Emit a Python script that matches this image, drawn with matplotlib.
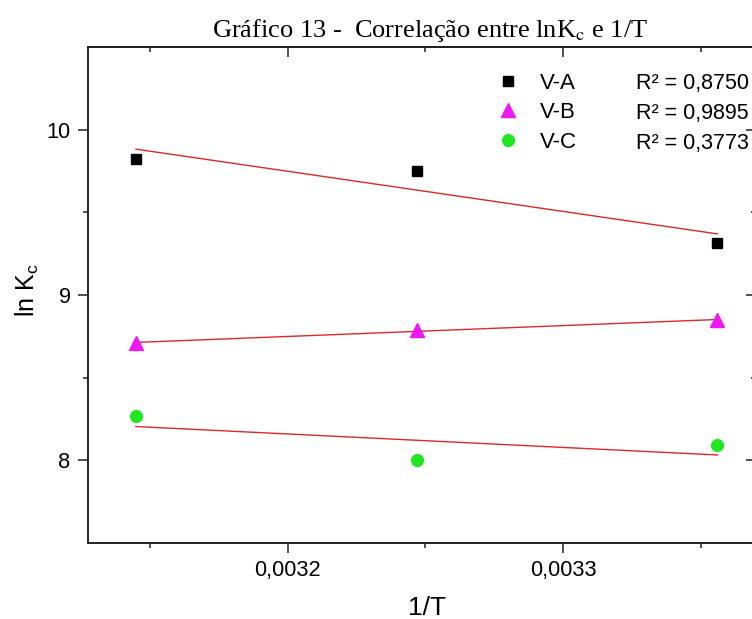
import numpy as np
import matplotlib.pyplot as plt
from matplotlib.lines import Line2D
from matplotlib.ticker import FuncFormatter

plt.rcParams['font.family'] = 'Liberation Sans'
plt.rcParams['mathtext.fontset'] = 'custom'
plt.rcParams['mathtext.rm'] = 'Liberation Sans'
plt.rcParams['mathtext.it'] = 'Liberation Sans:italic'

# dados
inv_T = [0.003145, 0.003247, 0.003356]
lnK_VA = [9.824, 9.747, 9.315]
lnK_VB = [8.709, 8.788, 8.848]
lnK_VC = [8.267, 8.000, 8.091]
series_names = ["V-A", "V-B", "V-C"]
r2_values = ["0,8750", "0,9895", "0,3773"]

x_major = [0.0032, 0.0033]
x_minor = [0.00315, 0.00325, 0.00335]
y_major = [8, 9, 10]
y_minor = [8.5, 9.5]

fig = plt.figure(figsize=(7.52, 6.19), dpi=100)
ax = fig.add_axes([88 / 752, 76 / 619, 668 / 752, 496 / 619])

series = [lnK_VA, lnK_VB, lnK_VC]
markers = ['s', '^', 'o']
colors = ['black', '#f018f0', '#22e622']
msizes = [7.5, 9.5, 8.5]

x = np.array(inv_T)
handles = []
for ys, m, c, ms in zip(series, markers, colors, msizes):
    ys = np.array(ys)
    a, b = np.polyfit(x, ys, 1)
    ax.plot([x[0], x[-1]], [a * x[0] + b, a * x[-1] + b], color='#e02828', lw=1.0, zorder=2)
    ax.plot(x, ys, linestyle='none', marker=m, color=c, markersize=ms, zorder=3)
    handles.append(Line2D([], [], linestyle='none', marker=m, color=c, markersize=ms))

ax.set_xlim(0.0031276, 0.00337)
ax.set_ylim(7.5, 10.5)

ax.set_xticks(x_major)
ax.set_xticks(x_minor, minor=True)
ax.set_yticks(y_major)
ax.set_yticks(y_minor, minor=True)
ax.xaxis.set_major_formatter(FuncFormatter(lambda v, p: ('%.4f' % v).replace('.', ',')))
ax.yaxis.set_major_formatter(FuncFormatter(lambda v, p: ('%g' % v).replace('.', ',')))

ax.tick_params(which='major', direction='out', length=7.5, width=1.1, labelsize=15.7, pad=5, color='#222222')
ax.tick_params(which='minor', direction='out', length=3.5, width=1.1, color='#222222')
for s in ax.spines.values():
    s.set_linewidth(1.4)
    s.set_color('#222222')

# ticks espelhados para dentro no topo e na direita
top = ax.secondary_xaxis('top')
top.set_xticks(x_major)
top.set_xticks(x_minor, minor=True)
top.tick_params(which='both', direction='in', labeltop=False, width=1.1, color='#222222')
top.tick_params(which='major', length=7.5)
top.tick_params(which='minor', length=3.5)
top.spines['top'].set_linewidth(1.4)

right = ax.secondary_yaxis('right')
right.set_yticks(y_major)
right.set_yticks(y_minor, minor=True)
right.tick_params(which='both', direction='in', labelright=False, width=1.1, color='#222222')
right.tick_params(which='major', length=7.5)
right.tick_params(which='minor', length=3.5)

leg1 = ax.legend(handles, series_names, loc='upper left', bbox_to_anchor=(0.614, 0.948),
                 frameon=False, fontsize=16, handlelength=0.9, handletextpad=1.0,
                 labelspacing=0.38, borderpad=0, borderaxespad=0)
ax.add_artist(leg1)
blank = [Line2D([], [], linestyle='none') for _ in r2_values]
ax.legend(blank, ["R² = " + r for r in r2_values], loc='upper left', bbox_to_anchor=(0.820, 0.948),
          frameon=False, fontsize=15.5, handlelength=0, handletextpad=0,
          labelspacing=0.42, borderpad=0, borderaxespad=0)

fig.text(27 / 752, 1 - 290 / 619, r"ln K$_\mathrm{c}$", rotation=90, ha='center', va='center', fontsize=18)
fig.text(427 / 752, 1 - 608 / 619, "1/T", ha='center', va='center', fontsize=19)
fig.text(430 / 752, 1 - 37 / 619, r"Gráfico 13 -  Correlação entre lnK$_\mathrm{c}$ e 1/T",
         ha='center', va='baseline', fontsize=19, family='Liberation Serif', math_fontfamily='stix')

fig.savefig('out.png', dpi=100)
